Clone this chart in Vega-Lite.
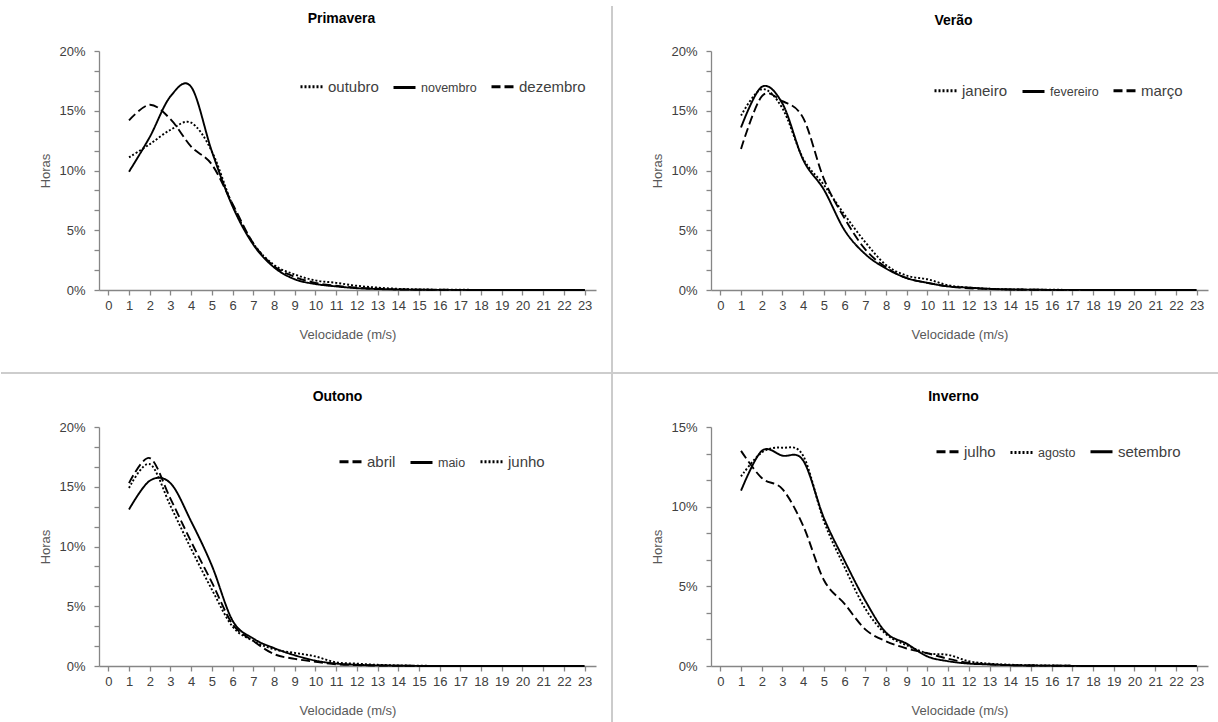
{
  "$schema": "https://vega.github.io/schema/vega-lite/v6.json",
  "padding": {"left": 0, "top": 5, "right": 0, "bottom": 0},
  "background": "white",
  "config": {
    "font": "Liberation Sans",
    "view": {"stroke": null},
    "axis": {"grid": false, "domainColor": "#868686", "tickColor": "#868686", "labelColor": "#404040", "labelFont": "Liberation Sans", "labelFontSize": 13, "titleFont": "Liberation Sans", "titleFontSize": 13, "titleFontWeight": "normal", "titleColor": "#595959", "labelFlush": false, "labelOverlap": false, "domainWidth": 1.3, "tickWidth": 1.3},
    "title": {"font": "Liberation Sans", "fontSize": 14, "fontWeight": "bold", "color": "#000000", "anchor": "middle"},
    "legend": {"orient": "none", "direction": "horizontal", "title": null, "symbolType": "stroke", "symbolStrokeWidth": 3, "symbolSize": 484, "symbolStrokeColor": "#000000", "labelFont": "Liberation Sans", "labelFontSize": 15, "labelColor": "#404040", "columnPadding": 8, "labelOffset": 4}
  },
  "data": {"values": [
    {"e":"Primavera","m":"outubro","v":1,"h":11.1},{"e":"Primavera","m":"outubro","v":2,"h":12.2},{"e":"Primavera","m":"outubro","v":3,"h":13.4},{"e":"Primavera","m":"outubro","v":4,"h":14.0},{"e":"Primavera","m":"outubro","v":5,"h":11.6},{"e":"Primavera","m":"outubro","v":6,"h":7.1},{"e":"Primavera","m":"outubro","v":7,"h":3.9},{"e":"Primavera","m":"outubro","v":8,"h":2.1},{"e":"Primavera","m":"outubro","v":9,"h":1.3},{"e":"Primavera","m":"outubro","v":10,"h":0.8},{"e":"Primavera","m":"outubro","v":11,"h":0.6},{"e":"Primavera","m":"outubro","v":12,"h":0.35},{"e":"Primavera","m":"outubro","v":13,"h":0.2},{"e":"Primavera","m":"outubro","v":14,"h":0.1},{"e":"Primavera","m":"outubro","v":15,"h":0.05},{"e":"Primavera","m":"outubro","v":16,"h":0.03},{"e":"Primavera","m":"outubro","v":17,"h":0.02},{"e":"Primavera","m":"outubro","v":18,"h":0.01},{"e":"Primavera","m":"outubro","v":19,"h":0.01},{"e":"Primavera","m":"outubro","v":20,"h":0},{"e":"Primavera","m":"outubro","v":21,"h":0},{"e":"Primavera","m":"outubro","v":22,"h":0},{"e":"Primavera","m":"outubro","v":23,"h":0},
    {"e":"Primavera","m":"novembro","v":1,"h":9.9},{"e":"Primavera","m":"novembro","v":2,"h":12.8},{"e":"Primavera","m":"novembro","v":3,"h":16.2},{"e":"Primavera","m":"novembro","v":4,"h":17.0},{"e":"Primavera","m":"novembro","v":5,"h":11.6},{"e":"Primavera","m":"novembro","v":6,"h":7.0},{"e":"Primavera","m":"novembro","v":7,"h":3.8},{"e":"Primavera","m":"novembro","v":8,"h":1.9},{"e":"Primavera","m":"novembro","v":9,"h":0.9},{"e":"Primavera","m":"novembro","v":10,"h":0.5},{"e":"Primavera","m":"novembro","v":11,"h":0.3},{"e":"Primavera","m":"novembro","v":12,"h":0.15},{"e":"Primavera","m":"novembro","v":13,"h":0.08},{"e":"Primavera","m":"novembro","v":14,"h":0.04},{"e":"Primavera","m":"novembro","v":15,"h":0.02},{"e":"Primavera","m":"novembro","v":16,"h":0.01},{"e":"Primavera","m":"novembro","v":17,"h":0.01},{"e":"Primavera","m":"novembro","v":18,"h":0},{"e":"Primavera","m":"novembro","v":19,"h":0},{"e":"Primavera","m":"novembro","v":20,"h":0},{"e":"Primavera","m":"novembro","v":21,"h":0},{"e":"Primavera","m":"novembro","v":22,"h":0},{"e":"Primavera","m":"novembro","v":23,"h":0},
    {"e":"Primavera","m":"dezembro","v":1,"h":14.2},{"e":"Primavera","m":"dezembro","v":2,"h":15.5},{"e":"Primavera","m":"dezembro","v":3,"h":14.3},{"e":"Primavera","m":"dezembro","v":4,"h":12.0},{"e":"Primavera","m":"dezembro","v":5,"h":10.5},{"e":"Primavera","m":"dezembro","v":6,"h":7.2},{"e":"Primavera","m":"dezembro","v":7,"h":3.9},{"e":"Primavera","m":"dezembro","v":8,"h":2.0},{"e":"Primavera","m":"dezembro","v":9,"h":1.1},{"e":"Primavera","m":"dezembro","v":10,"h":0.6},{"e":"Primavera","m":"dezembro","v":11,"h":0.35},{"e":"Primavera","m":"dezembro","v":12,"h":0.2},{"e":"Primavera","m":"dezembro","v":13,"h":0.1},{"e":"Primavera","m":"dezembro","v":14,"h":0.05},{"e":"Primavera","m":"dezembro","v":15,"h":0.03},{"e":"Primavera","m":"dezembro","v":16,"h":0.02},{"e":"Primavera","m":"dezembro","v":17,"h":0.01},{"e":"Primavera","m":"dezembro","v":18,"h":0},{"e":"Primavera","m":"dezembro","v":19,"h":0},{"e":"Primavera","m":"dezembro","v":20,"h":0},{"e":"Primavera","m":"dezembro","v":21,"h":0},{"e":"Primavera","m":"dezembro","v":22,"h":0},{"e":"Primavera","m":"dezembro","v":23,"h":0},
    {"e":"Verão","m":"janeiro","v":1,"h":14.6},{"e":"Verão","m":"janeiro","v":2,"h":16.8},{"e":"Verão","m":"janeiro","v":3,"h":15.2},{"e":"Verão","m":"janeiro","v":4,"h":11.0},{"e":"Verão","m":"janeiro","v":5,"h":8.8},{"e":"Verão","m":"janeiro","v":6,"h":6.3},{"e":"Verão","m":"janeiro","v":7,"h":4.0},{"e":"Verão","m":"janeiro","v":8,"h":2.1},{"e":"Verão","m":"janeiro","v":9,"h":1.2},{"e":"Verão","m":"janeiro","v":10,"h":0.9},{"e":"Verão","m":"janeiro","v":11,"h":0.4},{"e":"Verão","m":"janeiro","v":12,"h":0.2},{"e":"Verão","m":"janeiro","v":13,"h":0.1},{"e":"Verão","m":"janeiro","v":14,"h":0.05},{"e":"Verão","m":"janeiro","v":15,"h":0.03},{"e":"Verão","m":"janeiro","v":16,"h":0.02},{"e":"Verão","m":"janeiro","v":17,"h":0.01},{"e":"Verão","m":"janeiro","v":18,"h":0},{"e":"Verão","m":"janeiro","v":19,"h":0},{"e":"Verão","m":"janeiro","v":20,"h":0},{"e":"Verão","m":"janeiro","v":21,"h":0},{"e":"Verão","m":"janeiro","v":22,"h":0},{"e":"Verão","m":"janeiro","v":23,"h":0},
    {"e":"Verão","m":"fevereiro","v":1,"h":13.6},{"e":"Verão","m":"fevereiro","v":2,"h":17.0},{"e":"Verão","m":"fevereiro","v":3,"h":15.6},{"e":"Verão","m":"fevereiro","v":4,"h":10.9},{"e":"Verão","m":"fevereiro","v":5,"h":8.4},{"e":"Verão","m":"fevereiro","v":6,"h":5.0},{"e":"Verão","m":"fevereiro","v":7,"h":3.0},{"e":"Verão","m":"fevereiro","v":8,"h":1.8},{"e":"Verão","m":"fevereiro","v":9,"h":1.0},{"e":"Verão","m":"fevereiro","v":10,"h":0.6},{"e":"Verão","m":"fevereiro","v":11,"h":0.3},{"e":"Verão","m":"fevereiro","v":12,"h":0.2},{"e":"Verão","m":"fevereiro","v":13,"h":0.1},{"e":"Verão","m":"fevereiro","v":14,"h":0.05},{"e":"Verão","m":"fevereiro","v":15,"h":0.03},{"e":"Verão","m":"fevereiro","v":16,"h":0.01},{"e":"Verão","m":"fevereiro","v":17,"h":0.01},{"e":"Verão","m":"fevereiro","v":18,"h":0},{"e":"Verão","m":"fevereiro","v":19,"h":0},{"e":"Verão","m":"fevereiro","v":20,"h":0},{"e":"Verão","m":"fevereiro","v":21,"h":0},{"e":"Verão","m":"fevereiro","v":22,"h":0},{"e":"Verão","m":"fevereiro","v":23,"h":0},
    {"e":"Verão","m":"março","v":1,"h":11.8},{"e":"Verão","m":"março","v":2,"h":16.2},{"e":"Verão","m":"março","v":3,"h":15.8},{"e":"Verão","m":"março","v":4,"h":14.4},{"e":"Verão","m":"março","v":5,"h":9.3},{"e":"Verão","m":"março","v":6,"h":6.0},{"e":"Verão","m":"março","v":7,"h":3.4},{"e":"Verão","m":"março","v":8,"h":1.9},{"e":"Verão","m":"março","v":9,"h":1.0},{"e":"Verão","m":"março","v":10,"h":0.6},{"e":"Verão","m":"março","v":11,"h":0.3},{"e":"Verão","m":"março","v":12,"h":0.15},{"e":"Verão","m":"março","v":13,"h":0.08},{"e":"Verão","m":"março","v":14,"h":0.04},{"e":"Verão","m":"março","v":15,"h":0.02},{"e":"Verão","m":"março","v":16,"h":0.01},{"e":"Verão","m":"março","v":17,"h":0},{"e":"Verão","m":"março","v":18,"h":0},{"e":"Verão","m":"março","v":19,"h":0},{"e":"Verão","m":"março","v":20,"h":0},{"e":"Verão","m":"março","v":21,"h":0},{"e":"Verão","m":"março","v":22,"h":0},{"e":"Verão","m":"março","v":23,"h":0},
    {"e":"Outono","m":"abril","v":1,"h":15.3},{"e":"Outono","m":"abril","v":2,"h":17.4},{"e":"Outono","m":"abril","v":3,"h":14.0},{"e":"Outono","m":"abril","v":4,"h":10.4},{"e":"Outono","m":"abril","v":5,"h":7.0},{"e":"Outono","m":"abril","v":6,"h":3.5},{"e":"Outono","m":"abril","v":7,"h":2.1},{"e":"Outono","m":"abril","v":8,"h":1.0},{"e":"Outono","m":"abril","v":9,"h":0.6},{"e":"Outono","m":"abril","v":10,"h":0.35},{"e":"Outono","m":"abril","v":11,"h":0.15},{"e":"Outono","m":"abril","v":12,"h":0.08},{"e":"Outono","m":"abril","v":13,"h":0.04},{"e":"Outono","m":"abril","v":14,"h":0.02},{"e":"Outono","m":"abril","v":15,"h":0.01},{"e":"Outono","m":"abril","v":16,"h":0},{"e":"Outono","m":"abril","v":17,"h":0},{"e":"Outono","m":"abril","v":18,"h":0},{"e":"Outono","m":"abril","v":19,"h":0},{"e":"Outono","m":"abril","v":20,"h":0},{"e":"Outono","m":"abril","v":21,"h":0},{"e":"Outono","m":"abril","v":22,"h":0},{"e":"Outono","m":"abril","v":23,"h":0},
    {"e":"Outono","m":"maio","v":1,"h":13.1},{"e":"Outono","m":"maio","v":2,"h":15.5},{"e":"Outono","m":"maio","v":3,"h":15.3},{"e":"Outono","m":"maio","v":4,"h":12.1},{"e":"Outono","m":"maio","v":5,"h":8.4},{"e":"Outono","m":"maio","v":6,"h":3.8},{"e":"Outono","m":"maio","v":7,"h":2.3},{"e":"Outono","m":"maio","v":8,"h":1.5},{"e":"Outono","m":"maio","v":9,"h":0.9},{"e":"Outono","m":"maio","v":10,"h":0.45},{"e":"Outono","m":"maio","v":11,"h":0.2},{"e":"Outono","m":"maio","v":12,"h":0.1},{"e":"Outono","m":"maio","v":13,"h":0.05},{"e":"Outono","m":"maio","v":14,"h":0.03},{"e":"Outono","m":"maio","v":15,"h":0.01},{"e":"Outono","m":"maio","v":16,"h":0},{"e":"Outono","m":"maio","v":17,"h":0},{"e":"Outono","m":"maio","v":18,"h":0},{"e":"Outono","m":"maio","v":19,"h":0},{"e":"Outono","m":"maio","v":20,"h":0},{"e":"Outono","m":"maio","v":21,"h":0},{"e":"Outono","m":"maio","v":22,"h":0},{"e":"Outono","m":"maio","v":23,"h":0},
    {"e":"Outono","m":"junho","v":1,"h":14.9},{"e":"Outono","m":"junho","v":2,"h":16.9},{"e":"Outono","m":"junho","v":3,"h":13.4},{"e":"Outono","m":"junho","v":4,"h":9.8},{"e":"Outono","m":"junho","v":5,"h":6.4},{"e":"Outono","m":"junho","v":6,"h":3.3},{"e":"Outono","m":"junho","v":7,"h":2.1},{"e":"Outono","m":"junho","v":8,"h":1.4},{"e":"Outono","m":"junho","v":9,"h":1.1},{"e":"Outono","m":"junho","v":10,"h":0.8},{"e":"Outono","m":"junho","v":11,"h":0.3},{"e":"Outono","m":"junho","v":12,"h":0.2},{"e":"Outono","m":"junho","v":13,"h":0.1},{"e":"Outono","m":"junho","v":14,"h":0.05},{"e":"Outono","m":"junho","v":15,"h":0.02},{"e":"Outono","m":"junho","v":16,"h":0.01},{"e":"Outono","m":"junho","v":17,"h":0},{"e":"Outono","m":"junho","v":18,"h":0},{"e":"Outono","m":"junho","v":19,"h":0},{"e":"Outono","m":"junho","v":20,"h":0},{"e":"Outono","m":"junho","v":21,"h":0},{"e":"Outono","m":"junho","v":22,"h":0},{"e":"Outono","m":"junho","v":23,"h":0},
    {"e":"Inverno","m":"julho","v":1,"h":13.5},{"e":"Inverno","m":"julho","v":2,"h":11.8},{"e":"Inverno","m":"julho","v":3,"h":11.1},{"e":"Inverno","m":"julho","v":4,"h":8.8},{"e":"Inverno","m":"julho","v":5,"h":5.4},{"e":"Inverno","m":"julho","v":6,"h":3.9},{"e":"Inverno","m":"julho","v":7,"h":2.3},{"e":"Inverno","m":"julho","v":8,"h":1.55},{"e":"Inverno","m":"julho","v":9,"h":1.1},{"e":"Inverno","m":"julho","v":10,"h":0.8},{"e":"Inverno","m":"julho","v":11,"h":0.45},{"e":"Inverno","m":"julho","v":12,"h":0.2},{"e":"Inverno","m":"julho","v":13,"h":0.1},{"e":"Inverno","m":"julho","v":14,"h":0.05},{"e":"Inverno","m":"julho","v":15,"h":0.03},{"e":"Inverno","m":"julho","v":16,"h":0.02},{"e":"Inverno","m":"julho","v":17,"h":0.01},{"e":"Inverno","m":"julho","v":18,"h":0},{"e":"Inverno","m":"julho","v":19,"h":0},{"e":"Inverno","m":"julho","v":20,"h":0},{"e":"Inverno","m":"julho","v":21,"h":0},{"e":"Inverno","m":"julho","v":22,"h":0},{"e":"Inverno","m":"julho","v":23,"h":0},
    {"e":"Inverno","m":"agosto","v":1,"h":11.9},{"e":"Inverno","m":"agosto","v":2,"h":13.4},{"e":"Inverno","m":"agosto","v":3,"h":13.7},{"e":"Inverno","m":"agosto","v":4,"h":13.2},{"e":"Inverno","m":"agosto","v":5,"h":9.1},{"e":"Inverno","m":"agosto","v":6,"h":6.2},{"e":"Inverno","m":"agosto","v":7,"h":3.6},{"e":"Inverno","m":"agosto","v":8,"h":2.0},{"e":"Inverno","m":"agosto","v":9,"h":1.3},{"e":"Inverno","m":"agosto","v":10,"h":0.8},{"e":"Inverno","m":"agosto","v":11,"h":0.7},{"e":"Inverno","m":"agosto","v":12,"h":0.3},{"e":"Inverno","m":"agosto","v":13,"h":0.15},{"e":"Inverno","m":"agosto","v":14,"h":0.08},{"e":"Inverno","m":"agosto","v":15,"h":0.05},{"e":"Inverno","m":"agosto","v":16,"h":0.03},{"e":"Inverno","m":"agosto","v":17,"h":0.01},{"e":"Inverno","m":"agosto","v":18,"h":0},{"e":"Inverno","m":"agosto","v":19,"h":0},{"e":"Inverno","m":"agosto","v":20,"h":0},{"e":"Inverno","m":"agosto","v":21,"h":0},{"e":"Inverno","m":"agosto","v":22,"h":0},{"e":"Inverno","m":"agosto","v":23,"h":0},
    {"e":"Inverno","m":"setembro","v":1,"h":11.0},{"e":"Inverno","m":"setembro","v":2,"h":13.5},{"e":"Inverno","m":"setembro","v":3,"h":13.2},{"e":"Inverno","m":"setembro","v":4,"h":12.9},{"e":"Inverno","m":"setembro","v":5,"h":9.3},{"e":"Inverno","m":"setembro","v":6,"h":6.6},{"e":"Inverno","m":"setembro","v":7,"h":4.1},{"e":"Inverno","m":"setembro","v":8,"h":2.1},{"e":"Inverno","m":"setembro","v":9,"h":1.4},{"e":"Inverno","m":"setembro","v":10,"h":0.6},{"e":"Inverno","m":"setembro","v":11,"h":0.3},{"e":"Inverno","m":"setembro","v":12,"h":0.15},{"e":"Inverno","m":"setembro","v":13,"h":0.1},{"e":"Inverno","m":"setembro","v":14,"h":0.05},{"e":"Inverno","m":"setembro","v":15,"h":0.03},{"e":"Inverno","m":"setembro","v":16,"h":0.02},{"e":"Inverno","m":"setembro","v":17,"h":0.01},{"e":"Inverno","m":"setembro","v":18,"h":0},{"e":"Inverno","m":"setembro","v":19,"h":0},{"e":"Inverno","m":"setembro","v":20,"h":0},{"e":"Inverno","m":"setembro","v":21,"h":0},{"e":"Inverno","m":"setembro","v":22,"h":0},{"e":"Inverno","m":"setembro","v":23,"h":0}
  ]},
  "columns": 2,
  "bounds": "flush",
  "spacing": {"row": 137, "column": 115},
  "resolve": {"scale": {"strokeDash": "independent", "x": "independent", "y": "independent"}, "legend": {"strokeDash": "independent"}, "axis": {"x": "independent", "y": "independent"}},
  "concat": [
    {
      "width": 497, "height": 239,
      "title": {"text": "Primavera", "offset": -21, "dx": -6},
      "layer": [
        {
          "transform": [{"filter": "datum.e == 'Primavera'"}],
          "mark": {"type": "line", "interpolate": "cardinal", "color": "#000000", "strokeWidth": 1.9},
          "encoding": {
            "x": {"field": "v", "type": "quantitative", "scale": {"domain": [-0.45, 23.55], "nice": false, "zero": false}, "axis": {"values": [0,1,2,3,4,5,6,7,8,9,10,11,12,13,14,15,16,17,18,19,20,21,22,23], "format": "d", "tickSize": 5, "labelPadding": 4, "title": "Velocidade (m/s)", "titlePadding": 16}},
            "y": {"field": "h", "type": "quantitative", "scale": {"domain": [0, 20], "nice": false}, "axis": {"values": [0,1.6667,3.3333,5,6.6667,8.3333,10,11.6667,13.3333,15,16.6667,18.3333,20], "labelExpr": "abs(datum.value/5 - round(datum.value/5)) < 0.01 ? round(datum.value) + '%' : ''", "tickSize": 5, "labelPadding": 9, "title": "Horas", "titlePadding": 6}},
            "strokeDash": {"field": "m", "type": "nominal", "scale": {"domain": ["outubro", "novembro", "dezembro"], "range": [[2, 2], [1, 0], [9, 4]]}, "legend": {"legendX": 200, "legendY": 23, "encode": {"labels": {"update": {"fontSize": {"signal": "datum.index == 1 ? 12.5 : 15"}}}}}}
          }
        },
        {
          "mark": {"type": "rule", "color": "#cccccc", "strokeWidth": 1.5},
          "encoding": {
            "x": {"datum": 24.32, "type": "quantitative", "scale": {"domain": [-0.45, 23.55], "nice": false, "zero": false}, "axis": {"values": [0,1,2,3,4,5,6,7,8,9,10,11,12,13,14,15,16,17,18,19,20,21,22,23], "format": "d", "tickSize": 5, "labelPadding": 4, "title": "Velocidade (m/s)", "titlePadding": 16}},
            "y": {"datum": 23.77, "type": "quantitative", "scale": {"domain": [0, 20], "nice": false}, "axis": {"values": [0,1.6667,3.3333,5,6.6667,8.3333,10,11.6667,13.3333,15,16.6667,18.3333,20], "labelExpr": "abs(datum.value/5 - round(datum.value/5)) < 0.01 ? round(datum.value) + '%' : ''", "tickSize": 5, "labelPadding": 9, "title": "Horas", "titlePadding": 6}},
            "y2": {"datum": -36.23}
          }
        },
        {
          "mark": {"type": "rule", "color": "#cccccc", "strokeWidth": 1.5},
          "encoding": {
            "x": {"datum": -5.18, "type": "quantitative", "scale": {"domain": [-0.45, 23.55], "nice": false, "zero": false}, "axis": {"values": [0,1,2,3,4,5,6,7,8,9,10,11,12,13,14,15,16,17,18,19,20,21,22,23], "format": "d", "tickSize": 5, "labelPadding": 4, "title": "Velocidade (m/s)", "titlePadding": 16}},
            "x2": {"datum": 53.63},
            "y": {"datum": -6.95, "type": "quantitative", "scale": {"domain": [0, 20], "nice": false}, "axis": {"values": [0,1.6667,3.3333,5,6.6667,8.3333,10,11.6667,13.3333,15,16.6667,18.3333,20], "labelExpr": "abs(datum.value/5 - round(datum.value/5)) < 0.01 ? round(datum.value) + '%' : ''", "tickSize": 5, "labelPadding": 9, "title": "Horas", "titlePadding": 6}}
          }
        }
      ]
    },
    {
      "width": 497, "height": 239,
      "title": {"text": "Verão", "offset": 17, "dx": -6},
      "transform": [{"filter": "datum.e == 'Verão'"}],
      "mark": {"type": "line", "interpolate": "cardinal", "color": "#000000", "strokeWidth": 1.9},
      "encoding": {
        "x": {"field": "v", "type": "quantitative", "scale": {"domain": [-0.45, 23.55], "nice": false, "zero": false}, "axis": {"values": [0,1,2,3,4,5,6,7,8,9,10,11,12,13,14,15,16,17,18,19,20,21,22,23], "format": "d", "tickSize": 5, "labelPadding": 4, "title": "Velocidade (m/s)", "titlePadding": 16}},
        "y": {"field": "h", "type": "quantitative", "scale": {"domain": [0, 20], "nice": false}, "axis": {"values": [0,1.6667,3.3333,5,6.6667,8.3333,10,11.6667,13.3333,15,16.6667,18.3333,20], "labelExpr": "abs(datum.value/5 - round(datum.value/5)) < 0.01 ? round(datum.value) + '%' : ''", "tickSize": 5, "labelPadding": 9, "title": "Horas", "titlePadding": 6}},
        "strokeDash": {"field": "m", "type": "nominal", "scale": {"domain": ["janeiro", "fevereiro", "março"], "range": [[2, 2], [1, 0], [9, 4]]}, "legend": {"legendX": 222, "legendY": 27, "encode": {"labels": {"update": {"fontSize": {"signal": "datum.index == 1 ? 12.5 : 15"}}}}}}
      }
    },
    {
      "width": 497, "height": 239,
      "title": {"text": "Outono", "offset": 17, "dx": -10},
      "transform": [{"filter": "datum.e == 'Outono'"}],
      "mark": {"type": "line", "interpolate": "cardinal", "color": "#000000", "strokeWidth": 1.9},
      "encoding": {
        "x": {"field": "v", "type": "quantitative", "scale": {"domain": [-0.45, 23.55], "nice": false, "zero": false}, "axis": {"values": [0,1,2,3,4,5,6,7,8,9,10,11,12,13,14,15,16,17,18,19,20,21,22,23], "format": "d", "tickSize": 5, "labelPadding": 4, "title": "Velocidade (m/s)", "titlePadding": 16}},
        "y": {"field": "h", "type": "quantitative", "scale": {"domain": [0, 20], "nice": false}, "axis": {"values": [0,1.6667,3.3333,5,6.6667,8.3333,10,11.6667,13.3333,15,16.6667,18.3333,20], "labelExpr": "abs(datum.value/5 - round(datum.value/5)) < 0.01 ? round(datum.value) + '%' : ''", "tickSize": 5, "labelPadding": 9, "title": "Horas", "titlePadding": 6}},
        "strokeDash": {"field": "m", "type": "nominal", "scale": {"domain": ["abril", "maio", "junho"], "range": [[9, 4], [1, 0], [2, 2]]}, "legend": {"legendX": 239, "legendY": 22, "encode": {"labels": {"update": {"fontSize": {"signal": "datum.index == 1 ? 12.5 : 15"}}}}}}
      }
    },
    {
      "width": 497, "height": 239,
      "title": {"text": "Inverno", "offset": 17, "dx": -6},
      "transform": [{"filter": "datum.e == 'Inverno'"}],
      "mark": {"type": "line", "interpolate": "cardinal", "color": "#000000", "strokeWidth": 1.9},
      "encoding": {
        "x": {"field": "v", "type": "quantitative", "scale": {"domain": [-0.45, 23.55], "nice": false, "zero": false}, "axis": {"values": [0,1,2,3,4,5,6,7,8,9,10,11,12,13,14,15,16,17,18,19,20,21,22,23], "format": "d", "tickSize": 5, "labelPadding": 4, "title": "Velocidade (m/s)", "titlePadding": 16}},
        "y": {"field": "h", "type": "quantitative", "scale": {"domain": [0, 15], "nice": false}, "axis": {"values": [0,1.6667,3.3333,5,6.6667,8.3333,10,11.6667,13.3333,15], "labelExpr": "abs(datum.value/5 - round(datum.value/5)) < 0.01 ? round(datum.value) + '%' : ''", "tickSize": 5, "labelPadding": 9, "title": "Horas", "titlePadding": 6}},
        "strokeDash": {"field": "m", "type": "nominal", "scale": {"domain": ["julho", "agosto", "setembro"], "range": [[9, 4], [2, 2], [1, 0]]}, "legend": {"legendX": 224, "legendY": 12, "encode": {"labels": {"update": {"fontSize": {"signal": "datum.index == 1 ? 12.5 : 15"}}}}}}
      }
    }
  ]
}
